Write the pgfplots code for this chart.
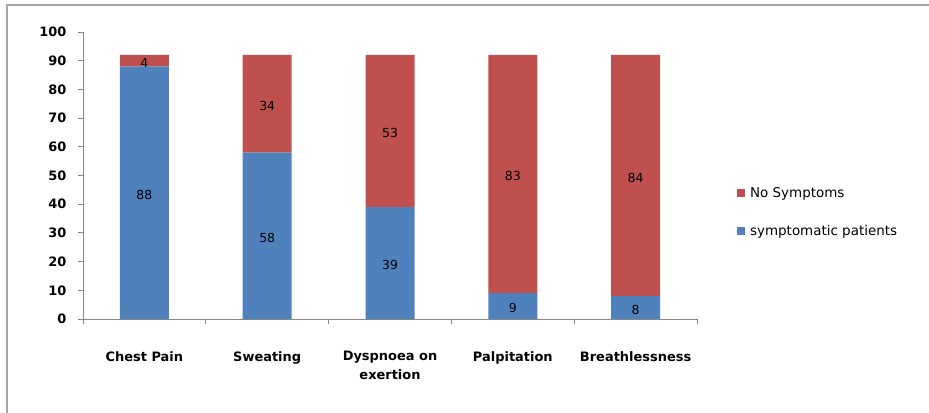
\documentclass[border=0pt]{standalone}
\usepackage{fontspec}
\setmainfont{DejaVu Sans}
\usepackage{pgfplots}
\usepackage{pgfplotstable}
\pgfplotsset{compat=1.18}
\definecolor{xlblue}{HTML}{4F81BD}
\definecolor{xlred}{HTML}{C0504D}
\definecolor{axgray}{HTML}{868686}
\definecolor{framegray}{HTML}{A6A6A6}

% symptomatic patients / no symptoms per complaint
\pgfplotstableread{
idx sym none
0 88 4
1 58 34
2 39 53
3 9 83
4 8 84
}\symptoms

\begin{document}
\begin{tikzpicture}
\useasboundingbox (0bp,0bp) rectangle (929bp,413bp);
\draw[framegray, line width=2bp] (7bp,-5bp) -- (7bp,408bp) -- (940bp,408bp);
\pgfplotsset{common/.style={
  at={(83bp,94bp)}, anchor=south west, scale only axis,
  width=614bp, height=287bp,
  xmin=-0.5, xmax=4.5, ymin=0, ymax=100,
  /pgf/number format/assume math mode=true,
}}
\begin{axis}[common, ybar stacked, bar width=49bp,
  axis lines=left, axis line style={axgray, line width=0.9bp, -},
  xtick={0,...,4},
  xticklabels={Chest Pain, Sweating, {Dyspnoea on\\[3bp]exertion}, Palpitation, Breathlessness},
  major x tick style={draw=none},
  minor xtick={-0.5,0.5,...,4.5},
  minor x tick style={axgray, line width=0.9bp},
  ytick={0,10,...,100},
  major y tick style={axgray, line width=0.9bp},
  tick align=outside, major tick length=5bp, minor tick length=5bp,
  xticklabel style={font=\bfseries\fontsize{13}{16}\selectfont, align=center, anchor=north, yshift=-24bp},
  yticklabel style={font=\bfseries\fontsize{13}{15}\selectfont, anchor=east, xshift=-8bp},
  legend style={draw=none, at={(1.065,0.372)}, anchor=west, font=\fontsize{13.5}{16}\selectfont,
    row sep=23bp, inner sep=0pt, nodes={inner xsep=5bp}},
  legend cell align=left,
  reverse legend,
  legend image code/.code={\fill[#1] (0bp,-4bp) rectangle (8bp,4bp);},
]
\addplot[fill=xlblue, draw=none] table[x=idx, y=sym] {\symptoms};
\addlegendentry{symptomatic patients}
\addplot[fill=xlred, draw=none] table[x=idx, y=none] {\symptoms};
\addlegendentry{No Symptoms}
\end{axis}
% value labels, centred in each segment
\begin{axis}[common, hide axis]
\addplot[draw=none, mark=none, nodes near coords, point meta=explicit,
  every node near coord/.style={anchor=center, yshift=-2bp, font=\fontsize{12.5}{14}\selectfont}]
  table[x=idx, y expr=\thisrow{sym}/2, meta=sym] {\symptoms};
\addplot[draw=none, mark=none, nodes near coords, point meta=explicit,
  every node near coord/.style={anchor=center, yshift=-2bp, font=\fontsize{12.5}{14}\selectfont}]
  table[x=idx, y expr=\thisrow{sym}+\thisrow{none}/2, meta=none] {\symptoms};
\end{axis}
\end{tikzpicture}
\end{document}
